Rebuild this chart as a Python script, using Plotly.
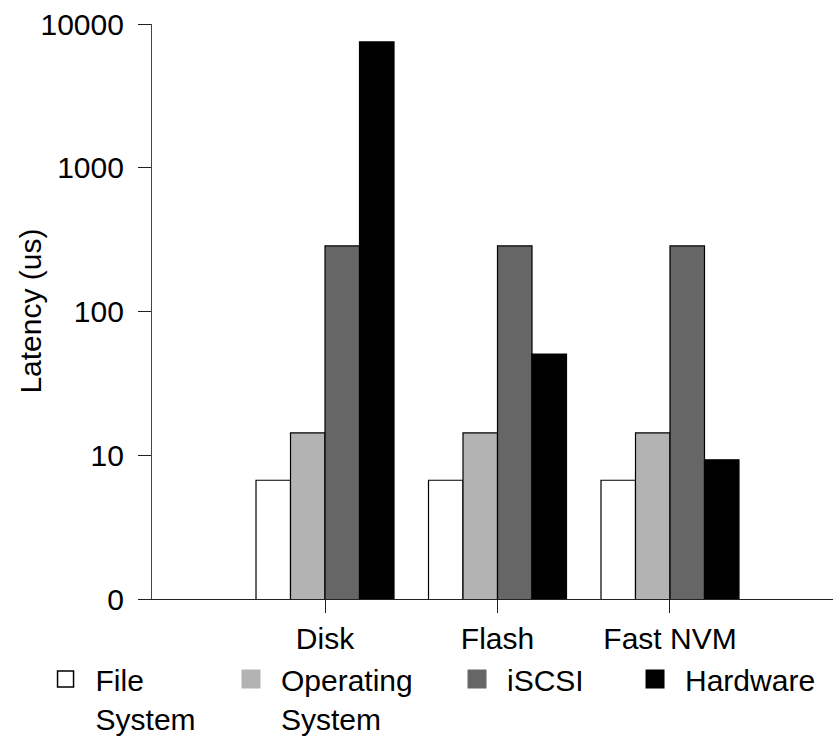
import plotly.graph_objects as go

categories = ["Disk", "Flash", "Fast NVM"]
series_names = ["File<br>System", "Operating<br>System", "iSCSI", "Hardware"]
file_system = [6.7, 6.7, 6.7]
operating_system = [14.3, 14.3, 14.3]
iscsi = [286, 286, 286]
hardware = [7500, 50.6, 9.3]
series_values = [file_system, operating_system, iscsi, hardware]
series_colors = ["#ffffff", "#b3b3b3", "#666666", "#000000"]
ytick_vals = [1, 10, 100, 1000, 10000]
ytick_text = ["0", "10", "100", "1000", "10000"]

FONT = "Liberation Sans, Arial, Helvetica, sans-serif"

fig = go.Figure()
for vals, col in zip(series_values, series_colors):
    fig.add_trace(go.Bar(
        x=categories, y=vals, marker=dict(color=col, line=dict(color="#000000", width=1.2)),
        showlegend=False,
    ))

legend_ids = ["legend", "legend2", "legend3", "legend4"]
legend_x = [-0.171, 0.1013, 0.4332, 0.6946]
for name, col, lid in zip(series_names, series_colors, legend_ids):
    is_white = col == "#ffffff"
    fig.add_trace(go.Scatter(
        x=[None], y=[None], mode="markers", name=name, legend=lid,
        marker=dict(symbol="square", size=16, color=col,
                    line=dict(color="#000000" if is_white else col, width=1.5 if is_white else 3)),
    ))

layout_legends = {}
for lid, lx in zip(legend_ids, legend_x):
    layout_legends[lid] = dict(
        x=lx, y=-0.094, xanchor="left", yanchor="top", xref="paper", yref="paper",
        itemwidth=50, valign="top", bgcolor="rgba(0,0,0,0)", borderwidth=0,
        font=dict(family=FONT, size=30, color="#000000"),
    )

fig.update_layout(
    width=833, height=738,
    margin=dict(l=152, r=0, t=24, b=139, pad=0, autoexpand=False),
    paper_bgcolor="#ffffff", plot_bgcolor="#ffffff",
    font=dict(family=FONT, size=30, color="#000000"),
    barmode="group", bargap=0.2, bargroupgap=0,
    **layout_legends,
)
fig.add_annotation(
    text="Latency (us)", textangle=-90, xref="paper", yref="paper",
    x=-0.179, y=0.5, xanchor="center", yanchor="middle", showarrow=False,
    font=dict(family=FONT, size=30, color="#000000"),
)
fig.update_xaxes(
    range=[-1.003, 2.945], showgrid=False, zeroline=False,
    showline=True, linecolor="#222222", linewidth=1.2,
    ticks="outside", ticklen=13, tickcolor="#222222", tickwidth=1.2,
    ticklabelstandoff=0,
    tickfont=dict(family=FONT, size=30, color="#000000"),
)
fig.update_yaxes(
    type="log", range=[0, 4], showgrid=False, zeroline=False,
    showline=True, linecolor="#444444", linewidth=1.2,
    ticks="outside", ticklen=13, tickcolor="#222222", tickwidth=1.2,
    tickvals=ytick_vals, ticktext=ytick_text, ticklabelstandoff=8,
    tickfont=dict(family=FONT, size=30, color="#000000"),
)

fig.write_html("out.html")
